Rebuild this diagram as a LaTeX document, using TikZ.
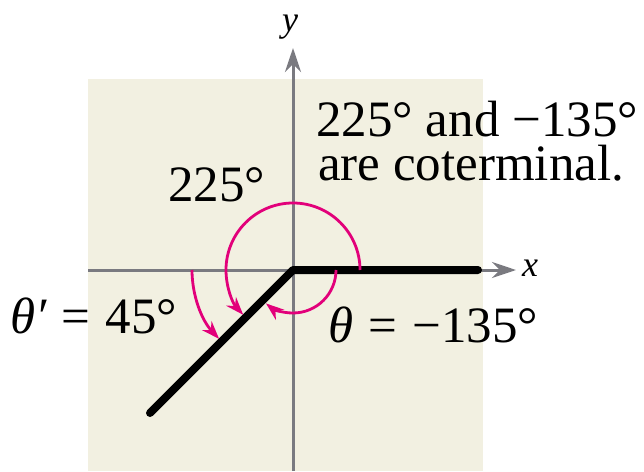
\documentclass[tikz,border=0pt]{standalone}
\usepackage{fontspec}
\setmainfont{Liberation Serif}
\usetikzlibrary{arrows.meta}
\definecolor{beige}{HTML}{F2F0E1}
\definecolor{axisgray}{HTML}{7A7A80}
\definecolor{mag}{HTML}{E2007A}
\newcommand{\msp}{\hspace{0.3em}}
\tikzset{
  axis/.style={draw=axisgray, line width=3pt, -{Stealth[length=24pt,width=16pt]}},
  side/.style={draw=black, line width=8pt, line cap=round, line join=round},
  angarc/.style={draw=mag, line width=2.8pt, -{Stealth[length=18pt,width=13pt]}},
  lbl/.style={inner sep=0pt, anchor=base west, font=\fontsize{51}{51}\selectfont},
  axlbl/.style={inner sep=0pt, font=\fontsize{36}{36}\selectfont\itshape}
}
\begin{document}
\begin{tikzpicture}[x=1pt,y=-1pt]
\useasboundingbox (0,0) rectangle (644,471);
\fill[beige] (88,79) rectangle (483,471);
\coordinate (O) at (293,270);
\coordinate (xs) at (88,270);
\coordinate (xe) at (516,270);
\coordinate (ys) at (293,471);
\coordinate (ye) at (293,48);
\coordinate (init) at (478,270);
\coordinate (term) at (150,413);
\draw[axis] (xs) -- (xe);
\draw[axis] (ys) -- (ye);
\node[axlbl] (xl) at (530,268) {x};
\node[axlbl] (yl) at (290,27) {y};
\draw[side] (init) -- (O) -- (term);
% 225 degree arc
\draw[angarc] ([xshift=67pt]O) arc[start angle=0, end angle=-222, radius=67];
% -135 degree arc
\draw[angarc] ([xshift=43pt]O) arc[start angle=0, end angle=129, radius=43];
% reference angle arc
\draw[angarc] ([xshift=-101pt]O) arc[start angle=-180, end angle=-223, radius=101];
\node[lbl, text depth=0pt] (t1) at (316,136) {225° and −135°};
\node[lbl, text height=0.68em] (t2) at (318,180) {are coterminal.};
\node[lbl] (a225) at (168,201) {225°};
\node[lbl] (tp) at (10,333) {\itshape θ′\upshape\msp=\msp45°};
\node[lbl] (tm) at (328,342) {\itshape θ\upshape\msp=\msp−135°};
\end{tikzpicture}
\end{document}
